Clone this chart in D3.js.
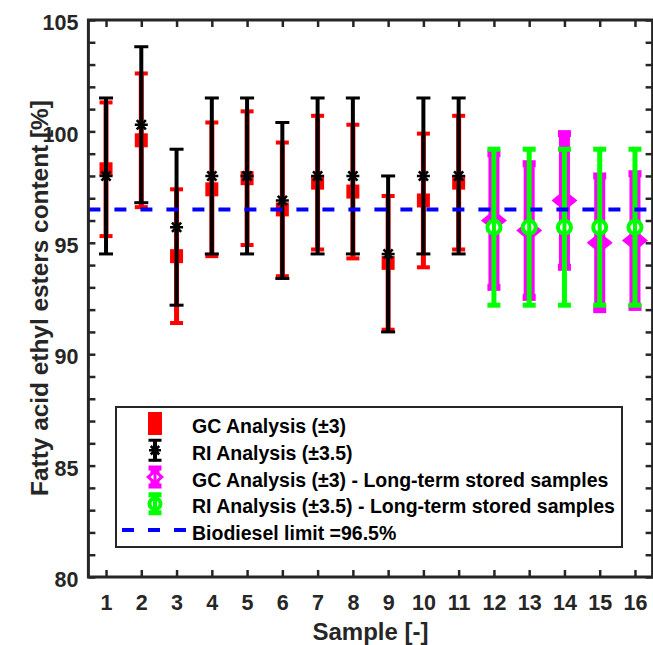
<!DOCTYPE html>
<html><head><meta charset="utf-8">
<script src="https://cdn.jsdelivr.net/npm/d3@7/dist/d3.min.js"></script>
<style>
body{margin:0;background:#fff}
svg{display:block}
text{font-family:"Liberation Sans",Arial,sans-serif;font-weight:bold}
</style>
</head><body>
<svg id="chart" width="653" height="645"></svg>
<script>
// ---------------- data ----------------
const samples = [1,2,3,4,5,6,7,8,9,10,11,12,13,14,15,16];
const gcSamples = [1,2,3,4,5,6,7,8,9,10,11];
const gcValues = [98.3,99.6,94.4,97.4,97.9,96.5,97.7,97.3,94.1,96.9,97.7];
const riSamples = [1,2,3,4,5,6,7,8,9,10,11];
const riValues = [98.0,100.3,95.7,98.0,98.0,96.9,98.0,98.0,94.5,98.0,98.0];
const ltSamples = [12,13,14,15,16];
const gcLtValues = [96.0,95.55,96.9,95.0,95.1];
const riLtValues = [95.7,95.7,95.7,95.7,95.7];
const gcError = 3;
const riError = 3.5;
const limitValue = 96.5;
const yTickValues = [80,81,82,83,84,85,86,87,88,89,90,91,92,93,94,95,96,97,98,99,100,101,102,103,104,105];
const yTickLabels = [80,85,90,95,100,105];
const legendLabels = ["GC Analysis (\u00b13)","RI Analysis (\u00b13.5)",
  "GC Analysis (\u00b13) - Long-term stored samples",
  "RI Analysis (\u00b13.5) - Long-term stored samples",
  "Biodiesel limit =96.5%"];

// ---------------- layout ----------------
const svg = d3.select("#chart");
const axisColor = "#262626";
const x = d3.scaleLinear().domain([0.5,16.5]).range([88.4,652.6]);
const y = d3.scaleLinear().domain([80,105]).range([577,20]);
const x0 = x.range()[0], x1 = x.range()[1], yT = y.range()[1], yB = y.range()[0];

const plot = svg.append("g");

function errBar(g, xs, vals, err, color, lw, capW, capH){
  g.selectAll(null).data(xs.map((s,i)=>({s,v:vals[i]}))).enter().append("line")
    .attr("x1",d=>x(d.s)).attr("x2",d=>x(d.s))
    .attr("y1",d=>y(d.v+err)).attr("y2",d=>y(d.v-err))
    .attr("stroke",color).attr("stroke-width",lw);
  [1,-1].forEach(sg=>{
    g.selectAll(null).data(xs.map((s,i)=>({s,v:vals[i]}))).enter().append("rect")
      .attr("x",d=>x(d.s)-capW/2).attr("y",d=>y(d.v+sg*err)-capH/2)
      .attr("width",capW).attr("height",capH).attr("fill",color);
  });
}
function starPath(cx,cy,r){
  const d=r*0.7071;
  return `M${cx-r},${cy}L${cx+r},${cy}M${cx},${cy-r}L${cx},${cy+r}M${cx-d},${cy-d}L${cx+d},${cy+d}M${cx-d},${cy+d}L${cx+d},${cy-d}`;
}
function diamondPath(cx,cy,hw,hh){
  return `M${cx},${cy-hh}L${cx+hw},${cy}L${cx},${cy+hh}L${cx-hw},${cy}Z`;
}

// GC (red)
const gRed = plot.append("g");
errBar(gRed, gcSamples, gcValues, gcError, "#ff0000", 5, 13, 4);
gRed.selectAll(null).data(gcSamples.map((s,i)=>({s,v:gcValues[i]}))).enter().append("rect")
  .attr("x",d=>x(d.s)-6.5).attr("y",d=>y(d.v)-7).attr("width",13).attr("height",14).attr("fill","#ff0000");

// RI (black)
const gBlack = plot.append("g");
errBar(gBlack, riSamples, riValues, riError, "#000000", 4, 14, 3);
gBlack.selectAll(null).data(riSamples.map((s,i)=>({s,v:riValues[i]}))).enter().append("path")
  .attr("d",d=>starPath(x(d.s),y(d.v),6.5)).attr("stroke","#000").attr("stroke-width",2.6).attr("fill","none");

// GC long-term (magenta)
const gMag = plot.append("g");
errBar(gMag, ltSamples, gcLtValues, gcError, "#ff00ff", 11, 13, 7);
gMag.selectAll(null).data(ltSamples.map((s,i)=>({s,v:gcLtValues[i]}))).enter().append("path")
  .attr("d",d=>diamondPath(x(d.s),y(d.v),13,10.5)).attr("fill","#ff00ff");

// RI long-term (green)
const gGreen = plot.append("g");
errBar(gGreen, ltSamples, riLtValues, riError, "#00ff00", 5, 13, 5);
gGreen.selectAll(null).data(ltSamples.map((s,i)=>({s,v:riLtValues[i]}))).enter().append("circle")
  .attr("cx",d=>x(d.s)).attr("cy",d=>y(d.v)).attr("r",6.5)
  .attr("fill","#fff").attr("stroke","#00ff00").attr("stroke-width",4);
gGreen.selectAll(null).data(ltSamples.map((s,i)=>({s,v:riLtValues[i]}))).enter().append("line")
  .attr("x1",d=>x(d.s)).attr("x2",d=>x(d.s)).attr("y1",d=>y(d.v)-6).attr("y2",d=>y(d.v)+6)
  .attr("stroke","#00ff00").attr("stroke-width",4);

// limit line
plot.append("line").attr("x1",x0).attr("x2",x1).attr("y1",y(limitValue)).attr("y2",y(limitValue))
  .attr("stroke","#0000ff").attr("stroke-width",4).attr("stroke-dasharray","12,14");

// ---------------- axes ----------------
function styleAxis(g){
  g.select(".domain").remove();
  g.selectAll(".tick line").attr("stroke",axisColor).attr("stroke-width",2.5);
  g.selectAll(".tick text").attr("fill",axisColor).style("font-size","21.5px")
    .style("font-family","'Liberation Sans',Arial,sans-serif").style("font-weight","bold");
}
const fmtY = d => yTickLabels.includes(d) ? d : "";
svg.append("g").attr("transform",`translate(${x0},0)`)
  .call(d3.axisLeft(y).tickValues(yTickValues).tickSize(-7).tickPadding(10).tickFormat(fmtY))
  .call(styleAxis).call(g=>g.selectAll(".tick text").attr("dy","0.45em"));
svg.append("g").attr("transform",`translate(${x1},0)`)
  .call(d3.axisRight(y).tickValues(yTickValues).tickSize(-7).tickFormat(""))
  .call(styleAxis);
svg.append("g").attr("transform",`translate(0,${yB})`)
  .call(d3.axisBottom(x).tickValues(samples).tickSize(-7).tickPadding(18).tickFormat(d3.format("d")))
  .call(styleAxis);
svg.append("g").attr("transform",`translate(0,${yT})`)
  .call(d3.axisTop(x).tickValues(samples).tickSize(-7).tickFormat(""))
  .call(styleAxis);

// frame
svg.append("rect").attr("x",x0).attr("y",yT).attr("width",x1-x0).attr("height",yB-yT)
  .attr("fill","none").attr("stroke",axisColor).attr("stroke-width",3);

// axis labels
svg.append("text").attr("x",(x0+x1)/2).attr("y",640).attr("text-anchor","middle")
  .attr("fill",axisColor).style("font-size","24px").text("Sample [-]");
svg.append("text").attr("transform","translate(48,298) rotate(-90)").attr("text-anchor","middle")
  .attr("fill",axisColor).style("font-size","24.4px").text("Fatty acid ethyl esters content [%]");

// ---------------- legend ----------------
const leg = svg.append("g");
leg.append("rect").attr("x",116).attr("y",407).attr("width",506).attr("height",140)
  .attr("fill","#fff").attr("stroke",axisColor).attr("stroke-width",2);
const rowY = i => 426 + i*26.75;
const mx = 155;
legendLabels.forEach((t,i)=>{
  leg.append("text").attr("x",192).attr("y",rowY(i)+7).attr("fill","#000").style("font-size","19.5px").text(t);
});
function glyphBar(cy,color,lw,capW,capH){
  leg.append("line").attr("x1",mx).attr("x2",mx).attr("y1",cy-11).attr("y2",cy+11).attr("stroke",color).attr("stroke-width",lw);
  leg.append("rect").attr("x",mx-capW/2).attr("y",cy-11.5).attr("width",capW).attr("height",capH).attr("fill",color);
  leg.append("rect").attr("x",mx-capW/2).attr("y",cy+11.5-capH).attr("width",capW).attr("height",capH).attr("fill",color);
}
let cy = rowY(0)-2.5;
glyphBar(cy,"#ff0000",5,14,4);
leg.append("rect").attr("x",mx-7).attr("y",cy-8).attr("width",14).attr("height",16).attr("fill","#ff0000");
cy = rowY(1)-2.5;
glyphBar(cy,"#000",4,13,3);
leg.append("path").attr("d",starPath(mx,cy,6)).attr("stroke","#000").attr("stroke-width",2.6).attr("fill","none");
cy = rowY(2)-2.5;
glyphBar(cy,"#ff00ff",9,13,5);
leg.append("path").attr("d",diamondPath(mx,cy,9,8)).attr("fill","#ff00ff");
leg.append("path").attr("d",diamondPath(mx,cy,4.5,4)).attr("fill","#fff");
leg.append("line").attr("x1",mx).attr("x2",mx).attr("y1",cy-5).attr("y2",cy+5).attr("stroke","#ff00ff").attr("stroke-width",3);
cy = rowY(3)-2.5;
glyphBar(cy,"#00ff00",5,13,5);
leg.append("circle").attr("cx",mx).attr("cy",cy).attr("r",5.5).attr("fill","#fff").attr("stroke","#00ff00").attr("stroke-width",4);
leg.append("line").attr("x1",mx).attr("x2",mx).attr("y1",cy-6).attr("y2",cy+6).attr("stroke","#00ff00").attr("stroke-width",4);
cy = rowY(4)-3;
leg.append("line").attr("x1",122).attr("x2",187).attr("y1",cy).attr("y2",cy)
  .attr("stroke","#0000ff").attr("stroke-width",4).attr("stroke-dasharray","12,14");
</script>
</body></html>
